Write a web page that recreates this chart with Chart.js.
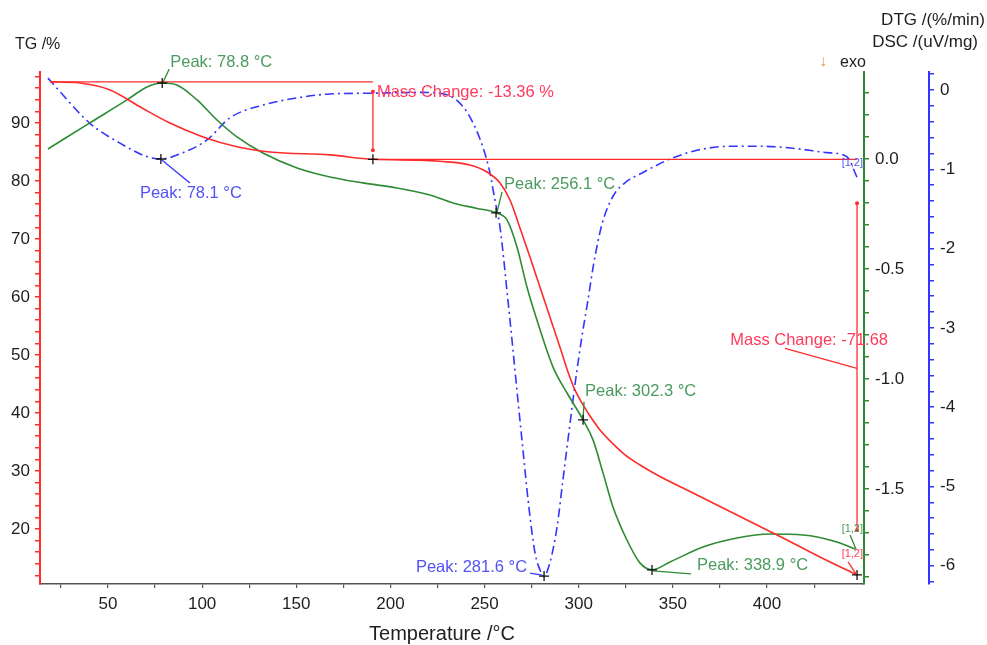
<!DOCTYPE html>
<html>
<head>
<meta charset="utf-8">
<title>TG / DSC / DTG</title>
<script src="https://cdn.jsdelivr.net/npm/chart.js@4.4.1/dist/chart.umd.min.js"></script>
<style>
  html, body { margin: 0; padding: 0; background: #fff; }
  #chart { display: block; }
</style>
</head>
<body>
<canvas id="chart" width="987" height="645"></canvas>
<script>
// TG curve: temperature (°C) and remaining mass (%)
var tgTemp = [19.2, 35.1, 51.1, 67.0, 82.9, 100.5, 118.5, 136.0, 167.9, 190.7, 215.7, 226.3, 242.2, 251.3, 258.2, 263.5, 268.8, 274.1, 279.4, 284.7, 290.0, 294.3, 298.0, 302.3, 306.0, 311.3, 317.7, 324.6, 332.5, 343.1, 357.5, 375.0, 392.5, 410.6, 428.1, 447.8];
var tgMass = [97.1, 96.9, 95.7, 92.8, 90.0, 87.6, 85.9, 85.0, 84.5, 83.74, 83.6, 83.4, 82.76, 81.55, 79.66, 76.72, 71.9, 66.9, 61.72, 56.55, 51.38, 47.07, 43.97, 41.38, 39.48, 37.07, 34.83, 32.76, 31.03, 29.05, 26.72, 23.88, 21.03, 18.1, 15.17, 12.06];

// DSC curve: temperature (°C) and heat flow (uV/mg)
var dscTemp = [18.1, 40.4, 60.1, 70.7, 78.8, 86.6, 97.3, 107.9, 118.5, 132.3, 150.4, 167.9, 185.4, 203.5, 221.0, 233.2, 246.0, 256.1, 261.9, 267.2, 272.5, 277.8, 286.3, 293.8, 302.3, 307.6, 312.9, 318.2, 325.6, 332.5, 338.9, 348.5, 366.0, 384.0, 401.6, 419.1, 437.1, 446.7];
var dscHeat = [0.045, 0.164, 0.268, 0.327, 0.345, 0.336, 0.268, 0.177, 0.100, 0.027, -0.041, -0.082, -0.109, -0.132, -0.164, -0.200, -0.225, -0.245, -0.277, -0.400, -0.582, -0.732, -0.945, -1.064, -1.186, -1.277, -1.427, -1.582, -1.732, -1.836, -1.868, -1.832, -1.764, -1.723, -1.705, -1.709, -1.741, -1.773];

// DTG curve: temperature (°C) and mass loss rate (%/min)
var dtgTemp = [18.1, 40.4, 56.4, 70.7, 78.1, 89.8, 102.6, 114.8, 132.3, 150.4, 167.9, 190.7, 215.7, 226.3, 235.3, 242.2, 249.1, 252.9, 255.5, 258.2, 262.4, 265.1, 267.7, 270.4, 273.1, 276.8, 279.4, 281.6, 284.7, 288.5, 291.6, 295.3, 298.5, 301.7, 304.9, 308.1, 312.4, 318.2, 325.6, 332.5, 340.5, 348.5, 362.8, 380.3, 397.8, 415.9, 431.8, 442.4, 447.8];
var dtgRate = [0.15, -0.42, -0.67, -0.84, -0.87, -0.79, -0.63, -0.35, -0.19, -0.10, -0.05, -0.04, -0.03, -0.04, -0.13, -0.34, -0.72, -1.05, -1.39, -1.73, -2.65, -3.28, -3.91, -4.54, -5.17, -5.84, -6.05, -6.13, -5.96, -5.51, -4.92, -4.22, -3.63, -3.11, -2.65, -2.17, -1.69, -1.34, -1.15, -1.06, -0.96, -0.87, -0.76, -0.71, -0.71, -0.74, -0.79, -0.84, -1.10];

// evaluated steps and peaks
var tgStepTemps = [19.2, 190.7, 447.8];
var tgStepLoss = [-13.36, -71.68];
var dscPeaks = [78.8, 256.1, 302.3, 338.9];
var dtgPeaks = [78.1, 281.6];

var RED = '#ff2b2b';
var RED_TXT = '#ff3a5c';
var GREEN = '#2e8b34';
var GREEN_TXT = '#4b9a5e';
var BLUE = '#3434ff';
var BLUE_TXT = '#5252f2';
var INK = '#1e1e1e';
var FONT = '"Liberation Sans", Arial, sans-serif';

function pairs(xs, ys) {
  return xs.map(function (t, i) { return { x: t, y: ys[i] }; });
}

function valueAt(xs, ys, t) {
  for (var i = 0; i < xs.length - 1; i++) {
    if (t >= xs[i] && t <= xs[i + 1]) {
      var f = (t - xs[i]) / (xs[i + 1] - xs[i]);
      return ys[i] + f * (ys[i + 1] - ys[i]);
    }
  }
  return ys[ys.length - 1];
}

function cross(ctx, px, py) {
  ctx.strokeStyle = '#111';
  ctx.lineWidth = 1.3;
  ctx.beginPath();
  ctx.moveTo(px - 5, py); ctx.lineTo(px + 5, py);
  ctx.moveTo(px, py - 5); ctx.lineTo(px, py + 5);
  ctx.stroke();
}

function line(ctx, color, x1, y1, x2, y2) {
  ctx.strokeStyle = color;
  ctx.lineWidth = 1.3;
  ctx.beginPath();
  ctx.moveTo(x1, y1); ctx.lineTo(x2, y2);
  ctx.stroke();
}

function dot(ctx, color, px, py) {
  ctx.fillStyle = color;
  ctx.beginPath();
  ctx.arc(px, py, 2, 0, Math.PI * 2);
  ctx.fill();
}

function text(ctx, str, color, px, py, align, size) {
  ctx.fillStyle = color;
  ctx.font = (size || 16.5) + 'px ' + FONT;
  ctx.textAlign = align || 'left';
  ctx.textBaseline = 'middle';
  ctx.fillText(str, px, py);
}

// peak labels, mass change steps and axis captions
var thermoMarks = {
  id: 'thermoMarks',
  afterDatasetsDraw: function (chart) {
    var ctx = chart.ctx;
    var x = chart.scales.x, tg = chart.scales.tg, dsc = chart.scales.dsc, dtg = chart.scales.dtg;
    ctx.save();

    // first mass step
    var start = valueAt(tgTemp, tgMass, tgStepTemps[0]);
    var m0 = tg.getPixelForValue(start);
    var m1 = tg.getPixelForValue(start + tgStepLoss[0]);
    var m2 = tg.getPixelForValue(start + tgStepLoss[0] + tgStepLoss[1]);
    var xa = x.getPixelForValue(tgStepTemps[0]);
    var xb = x.getPixelForValue(tgStepTemps[1]);
    var xc = x.getPixelForValue(tgStepTemps[2]);
    line(ctx, RED, xa, m0, xb, m0);
    line(ctx, RED, xb, m0 + 10, xb, m1 - 9);
    dot(ctx, RED, xb, m0 + 10);
    dot(ctx, RED, xb, m1 - 9);
    line(ctx, RED, xb, m1, xc, m1);
    cross(ctx, xb, m1);
    text(ctx, 'Mass Change: -13.36 %', RED_TXT, xb + 4, m0 + 11);

    // second mass step
    line(ctx, RED, xc, m1 + 44, xc, m2 - 45);
    dot(ctx, RED, xc, m1 + 44);
    dot(ctx, RED, xc, m2 - 45);
    line(ctx, RED, xc - 72, m1 + 189, xc, m1 + 209);
    text(ctx, 'Mass Change: -71.68', RED_TXT, xc + 31, m1 + 181, 'right');
    cross(ctx, xc, m2);

    // DSC peaks
    var g = dscPeaks.map(function (t) {
      return [x.getPixelForValue(t), dsc.getPixelForValue(valueAt(dscTemp, dscHeat, t))];
    });
    line(ctx, GREEN, g[0][0] + 7, g[0][1] - 14, g[0][0] + 1, g[0][1] - 1);
    text(ctx, 'Peak: 78.8 °C', GREEN_TXT, g[0][0] + 8, g[0][1] - 21);
    line(ctx, GREEN, g[1][0] + 6, g[1][1] - 21, g[1][0] + 1, g[1][1] - 1);
    text(ctx, 'Peak: 256.1 °C', GREEN_TXT, g[1][0] + 8, g[1][1] - 28);
    line(ctx, GREEN, g[2][0] + 1, g[2][1] - 18, g[2][0], g[2][1] - 1);
    text(ctx, 'Peak: 302.3 °C', GREEN_TXT, g[2][0] + 2, g[2][1] - 28);
    line(ctx, GREEN, g[3][0] + 1, g[3][1] + 1, g[3][0] + 39, g[3][1] + 4);
    text(ctx, 'Peak: 338.9 °C', GREEN_TXT, g[3][0] + 45, g[3][1] - 4);
    g.forEach(function (p) { cross(ctx, p[0], p[1]); });

    // DTG peaks
    var b = dtgPeaks.map(function (t) {
      return [x.getPixelForValue(t), dtg.getPixelForValue(valueAt(dtgTemp, dtgRate, t))];
    });
    line(ctx, BLUE, b[0][0] + 29, b[0][1] + 24, b[0][0] + 1, b[0][1] + 1);
    text(ctx, 'Peak: 78.1 °C', BLUE_TXT, b[0][0] - 21, b[0][1] + 34);
    line(ctx, BLUE, b[1][0] - 14, b[1][1] - 3, b[1][0] - 2, b[1][1] - 1);
    text(ctx, 'Peak: 281.6 °C', BLUE_TXT, b[1][0] - 17, b[1][1] - 9, 'right');
    b.forEach(function (p) { cross(ctx, p[0], p[1]); });

    // end-of-curve tags
    var ge = [x.getPixelForValue(dscTemp[dscTemp.length - 1]), dsc.getPixelForValue(dscHeat[dscHeat.length - 1])];
    text(ctx, '[1,2]', GREEN_TXT, xc + 6, ge[1] - 20, 'right', 11);
    line(ctx, GREEN, xc - 7, ge[1] - 14, ge[0] + 1, ge[1]);
    text(ctx, '[1,2]', RED_TXT, xc + 6, m2 - 21, 'right', 11);
    line(ctx, RED, xc - 9, m2 - 13, xc - 1, m2 - 1);
    var be = dtg.getPixelForValue(dtgRate[dtgRate.length - 1]);
    text(ctx, '[1,2]', BLUE_TXT, xc + 6, be - 14, 'right', 11);

    ctx.restore();
  },
  afterDraw: function (chart) {
    var ctx = chart.ctx;
    ctx.save();
    text(ctx, 'TG /%', INK, 15, 45, 'left', 16);
    text(ctx, 'DTG /(%/min)', INK, 985, 20, 'right', 17);
    text(ctx, 'DSC /(uV/mg)', INK, 978, 42, 'right', 17);
    text(ctx, '\u2193', '#e0a040', 823, 62, 'center', 16);
    text(ctx, 'exo', INK, 840, 63, 'left', 16);
    text(ctx, 'Temperature /°C', INK, 442, 634, 'center', 20);
    ctx.restore();
  }
};

function yAxis(color, pos, weight, width, min, max, step, label) {
  return {
    type: 'linear',
    position: pos,
    weight: weight,
    min: min,
    max: max,
    afterFit: function (s) { s.width = width; },
    border: { display: true, color: color, width: 2 },
    grid: { drawOnChartArea: false, drawTicks: true, tickLength: 5, color: color, lineWidth: 1.5 },
    ticks: {
      stepSize: step,
      includeBounds: false,
      autoSkip: false,
      padding: pos === 'left' ? 5 : 6,
      color: INK,
      font: { family: FONT, size: 17 },
      callback: label
    }
  };
}

var ctx = document.getElementById('chart').getContext('2d');

var chart = new Chart(ctx, {
  type: 'line',
  data: {
    datasets: [
      {
        label: 'TG',
        data: pairs(tgTemp, tgMass),
        yAxisID: 'tg',
        borderColor: RED,
        borderWidth: 1.6,
        pointRadius: 0,
        cubicInterpolationMode: 'monotone'
      },
      {
        label: 'DSC',
        data: pairs(dscTemp, dscHeat),
        yAxisID: 'dsc',
        borderColor: GREEN,
        borderWidth: 1.6,
        pointRadius: 0,
        cubicInterpolationMode: 'monotone'
      },
      {
        label: 'DTG',
        data: pairs(dtgTemp, dtgRate),
        yAxisID: 'dtg',
        borderColor: BLUE,
        borderWidth: 1.6,
        borderDash: [9, 4, 2, 4],
        pointRadius: 0,
        cubicInterpolationMode: 'monotone'
      }
    ]
  },
  options: {
    responsive: false,
    animation: false,
    layout: { padding: { top: 72, left: 0, right: 0, bottom: 0 } },
    plugins: { legend: { display: false }, tooltip: { enabled: false } },
    scales: {
      x: {
        type: 'linear',
        min: 13.9,
        max: 451.5,
        afterFit: function (s) { s.height = 61; },
        border: { display: true, color: '#555', width: 1.5 },
        grid: { drawOnChartArea: false, drawTicks: true, tickLength: 4, color: '#555', lineWidth: 1.2 },
        ticks: {
          stepSize: 25,
          includeBounds: false,
          autoSkip: false,
          maxRotation: 0,
          padding: 6,
          color: INK,
          font: { family: FONT, size: 17 },
          callback: function (v) {
            if (v > 440) return null;
            return v % 50 === 0 ? String(v) : '';
          }
        }
      },
      tg: yAxis(RED, 'left', 0, 40, 10.5, 98.8, 2, function (v) {
        return v % 10 === 0 ? String(v) : '';
      }),
      dsc: yAxis(GREEN, 'right', 0, 65, -1.932, 0.395, 0.1, function (v) {
        return Math.abs(v * 2 - Math.round(v * 2)) < 1e-6 ? v.toFixed(1) : '';
      }),
      dtg: yAxis(BLUE, 'right', 1, 58, -6.23, 0.227, 0.2, function (v) {
        return Math.abs(v - Math.round(v)) < 1e-6 ? String(Math.round(v)) : '';
      })
    }
  },
  plugins: [thermoMarks]
});
</script>
</body>
</html>
